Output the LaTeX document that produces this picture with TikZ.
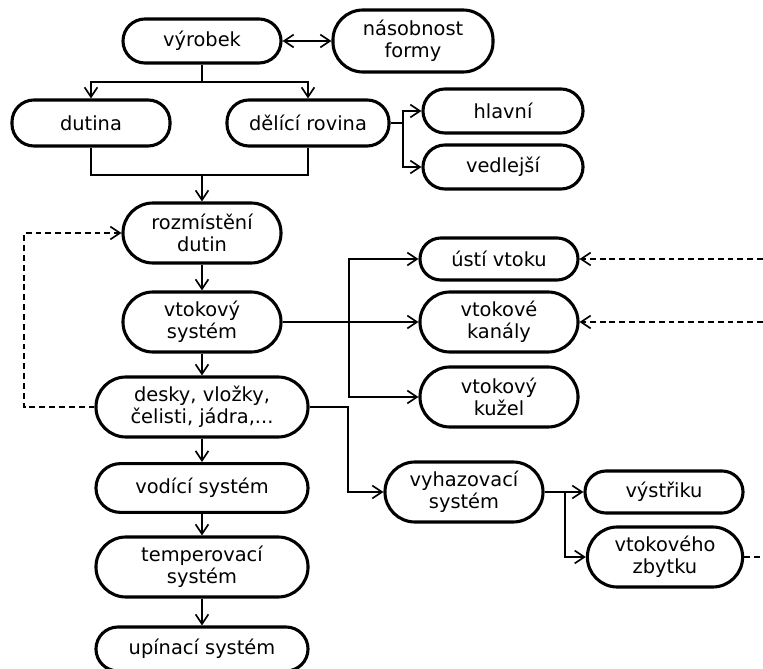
\documentclass[tikz,border=0pt]{standalone}
\usepackage{fontspec}
\setmainfont{DejaVu Sans}
\usetikzlibrary{arrows.meta}

\begin{document}
\begin{tikzpicture}[x=0.025cm, y=-0.025cm, line width=1.2pt,
  >={Straight Barb[length=2.4mm,width=3.2mm]},
  box/.style={draw, line width=2.2pt, rounded corners=0.55cm,
              minimum width=3.95cm, minimum height=1.1cm, inner sep=0pt,
              align=center, font=\fontsize{13.8pt}{15.8pt}\selectfont},
  tall/.style={rounded corners=0.75cm, minimum height=1.5cm},
  low/.style={rounded corners=0.525cm, minimum height=1.05cm},
  wide/.style={minimum width=5.3cm},
  back/.style={->, dash pattern=on 4.2pt off 2.8pt}]
  \useasboundingbox (0,0) rectangle (763,669);

  \node(vyrobek)[box] at (202,41) {výrobek};
  \node(nasob)[box,tall,minimum width=4cm,minimum height=1.55cm] at (413,41)
  {násobnost\\formy};
  \draw[<->] (vyrobek) -- (nasob);

  \node(dutina)[box,minimum height=1.15cm] at (91,123) {dutina};
  \node(delici)[box,minimum width=4.05cm,minimum height=1.15cm] at (308,123)
  {dělící rovina};
  \coordinate(split1) at (202,82);
  \draw (vyrobek) -- (split1);
  \draw[->] (split1) -| (dutina);
  \draw[->] (split1) -| (delici);

  \node(hlavni)[box,minimum width=4cm] at (503,111) {hlavní};
  \node(vedl)[box,minimum width=4cm] at (503,167) {vedlejší};
  \coordinate(split2) at (403,123);
  \draw (delici) -- (split2);
  \draw[->] (split2) |- (hlavni);
  \draw[->] (split2) |- (vedl);

  \node(rozm)[box,tall] at (202,233) {rozmístění\\dutin};
  \coordinate(merge) at (202,175);
  \draw (dutina) |- (merge) -| (delici);
  \draw[->] (merge) -- (rozm);

  \node(vtok)[box,tall] at (202,322) {vtokový\\systém};
  \node(desky)[box,tall,wide] at (202,407) {desky, vložky,\\čelisti, jádra,...};
  \draw[->] (rozm) -- (vtok);
  \draw[->] (vtok) -- (desky);

  \coordinate(loopL) at (24,407);
  \draw[back] (desky) -- (loopL) |- (rozm);

  \node(usti)[box,low] at (499,259) {ústí vtoku};
  \node(kanaly)[box,tall] at (499,322) {vtokové\\kanály};
  \node(kuzel)[box,tall] at (499,397) {vtokový\\kužel};
  \coordinate(split3) at (349,322);
  \draw[->] (vtok) -- (kanaly);
  \draw[->] (split3) |- (usti);
  \draw[->] (split3) |- (kuzel);

  \coordinate(inU) at (763,259);
  \coordinate(inK) at (763,322);
  \draw[back] (inU) -- (usti);
  \draw[back] (inK) -- (kanaly);

  \node(vodici)[box,wide,minimum height=1.22cm,rounded corners=0.61cm] at (202,488)
  {vodící systém};
  \node(temper)[box,tall,wide] at (202,567) {temperovací\\systém};
  \node(upin)[box,wide] at (202,649) {upínací systém};
  \draw[->] (desky) -- (vodici);
  \draw[->] (vodici) -- (temper);
  \draw[->] (temper) -- (upin);

  \node(vyhaz)[box,tall] at (464,492) {vyhazovací\\systém};
  \coordinate(bend) at (348,407);
  \draw[->] (desky) -- (bend) |- (vyhaz);

  \node(vystr)[box,low] at (664,492) {výstřiku};
  \node(zbytek)[box,tall,minimum width=3.88cm] at (665,557) {vtokového\\zbytku};
  \coordinate(split4) at (565,492);
  \draw[->] (vyhaz) -- (vystr);
  \draw[->] (split4) |- (zbytek);

  \coordinate(outZ) at (763,557);
  \draw[dash pattern=on 4.2pt off 2.8pt] (zbytek) -- (outZ);

\end{tikzpicture}
\end{document}
